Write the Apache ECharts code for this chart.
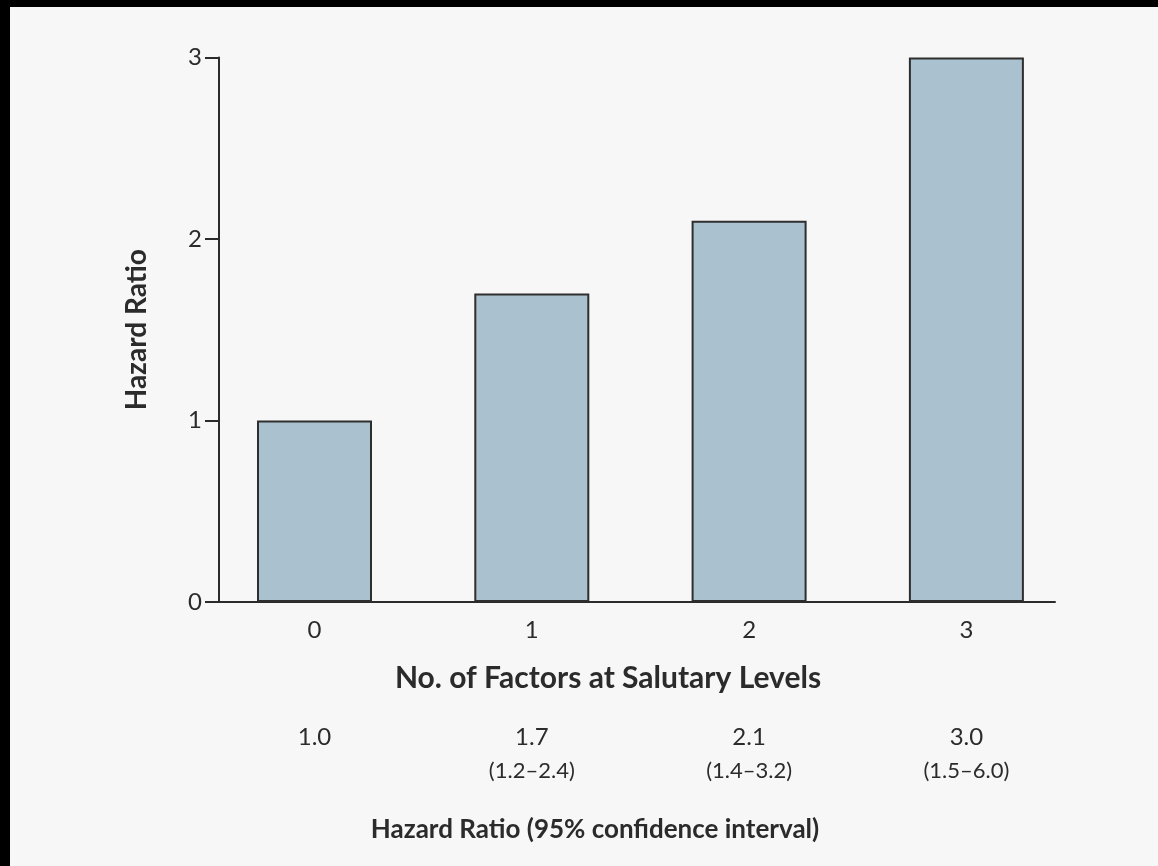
<!DOCTYPE html>
<html>
<head>
<meta charset="utf-8">
<script src="https://cdn.jsdelivr.net/npm/echarts@6/dist/echarts.min.js"></script>
<style>
  html, body { margin: 0; padding: 0; background: #000; }
  #hazardChart {
    position: absolute;
    left: 10px;
    top: 7px;
    width: 1148px;
    height: 859px;
    background: #f7f7f7;
  }
</style>
</head>
<body>
<div id="hazardChart"></div>
<script>
// data
const factorLevels = ['0', '1', '2', '3'];
const hazardRatios = [1.0, 1.7, 2.1, 3.0];
const hazardLabels = ['1.0', '1.7', '2.1', '3.0'];
const ciLabels = ['', '(1.2\u20132.4)', '(1.4\u20133.2)', '(1.5\u20136.0)'];
const yTicks = [0, 1, 2, 3];

const fontFam = 'Lato, "Open Sans", sans-serif';
const ink = '#2b2b2b';

let myChart = echarts.init(document.getElementById('hazardChart'));

myChart.setOption({
  backgroundColor: '#f7f7f7',
  animation: false,
  grid: [
    // grid 0: axis frame
    { left: 209, top: 50.5, width: 836, height: 544.5 },
    // grid 1: bars (wider than the frame, like the original)
    { left: 195.85, top: 50.5, width: 869.2, height: 544.5 }
  ],
  xAxis: [
    {
      gridIndex: 0,
      type: 'value',
      min: 0,
      max: 1,
      axisLine: { show: true, lineStyle: { color: ink, width: 2 } },
      axisTick: { show: false },
      axisLabel: { show: false },
      splitLine: { show: false }
    },
    {
      gridIndex: 1,
      type: 'category',
      data: factorLevels,
      axisLine: { show: false },
      axisTick: { show: false },
      axisLabel: {
        margin: 16,
        fontFamily: fontFam,
        fontSize: 24,
        color: ink
      }
    },
    {
      // hazard ratio + CI row under the title
      gridIndex: 1,
      type: 'category',
      position: 'bottom',
      offset: 111,
      data: hazardLabels,
      axisLine: { show: false },
      axisTick: { show: false },
      axisLabel: {
        margin: 8,
        color: ink,
        formatter: function (val, idx) {
          return '{a|' + val + '}\n{b|' + ciLabels[idx] + '}';
        },
        rich: {
          a: { fontFamily: fontFam, fontSize: 24, lineHeight: 33, color: ink },
          b: { fontFamily: fontFam, fontSize: 22, lineHeight: 33, color: ink }
        }
      }
    }
  ],
  yAxis: [
    {
      gridIndex: 0,
      type: 'value',
      min: yTicks[0],
      max: yTicks[yTicks.length - 1],
      interval: 1,
      name: 'Hazard Ratio',
      nameLocation: 'middle',
      nameGap: 68,
      nameTextStyle: { fontFamily: fontFam, fontWeight: 'bold', fontSize: 28, color: ink },
      axisLine: { show: true, lineStyle: { color: ink, width: 2 } },
      axisTick: { show: true, length: 14, lineStyle: { color: ink, width: 2 } },
      axisLabel: { margin: 17, fontFamily: fontFam, fontSize: 24, color: ink },
      splitLine: { show: false }
    },
    {
      gridIndex: 1,
      type: 'value',
      min: yTicks[0],
      max: yTicks[yTicks.length - 1],
      show: false
    }
  ],
  graphic: [
    {
      type: 'text',
      x: 598,
      y: 671,
      style: {
        text: 'No. of Factors at Salutary Levels',
        align: 'center',
        verticalAlign: 'middle',
        font: 'bold 30px ' + fontFam,
        fill: ink
      }
    },
    {
      type: 'text',
      x: 585,
      y: 823,
      style: {
        text: 'Hazard Ratio (95% confidence interval)',
        align: 'center',
        verticalAlign: 'middle',
        font: 'bold 26px ' + fontFam,
        fill: ink
      }
    }
  ],
  series: [
    {
      type: 'bar',
      xAxisIndex: 1,
      yAxisIndex: 1,
      barWidth: 115,
      itemStyle: {
        color: '#aac1cf',
        borderColor: '#2e2e2e',
        borderWidth: 2
      },
      data: hazardRatios
    }
  ]
});
</script>
</body>
</html>
